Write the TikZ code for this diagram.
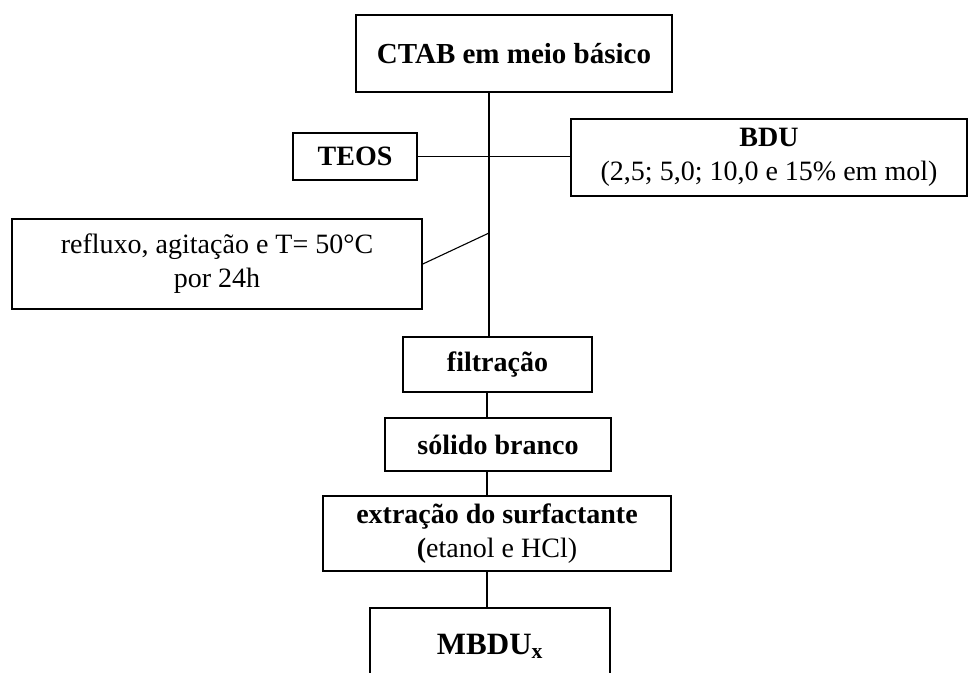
\documentclass[tikz,border=0pt]{standalone}
\usepackage{fontspec}
\setmainfont{Liberation Serif}
\begin{document}
\begin{tikzpicture}[x=1pt,y=1pt,
  box/.style={draw=black, line width=1.6pt, inner sep=0pt, align=center, font=\fontsize{28}{34}\selectfont},
  conn/.style={draw=black, line width=1.1pt}]
\useasboundingbox (0,0) rectangle (968,-672);
\node[box, minimum width=316pt, minimum height=77pt] (ctab) at (514,-53.5) {\fontsize{29}{34}\selectfont\textbf{CTAB em meio básico}};
\node[box, minimum width=124pt, minimum height=47pt] (teos) at (355,-156.5) {\textbf{TEOS}};
\node[box, minimum width=396pt, minimum height=77pt] (bdu) at (769,-157.5) {\textbf{BDU}\\(2,5; 5,0; 10,0 e 15\% em mol)};
\node[box, minimum width=410pt, minimum height=90pt] (reflux) at (217,-264) {refluxo, agitação e T= 50°C\\por 24h};
\node[box, minimum width=189pt, minimum height=55pt] (filt) at (497.5,-364.5) {\textbf{filtração}};
\node[box, minimum width=226pt, minimum height=53pt] (solido) at (498,-444.5) {\textbf{sólido branco}};
\node[box, minimum width=348pt, minimum height=75pt] (extr) at (497,-533.5) {\textbf{extração do surfactante}\\\textbf{(}etanol e HCl)};
\node[box, minimum width=240pt, minimum height=76pt] (mbdu) at (490,-646) {\fontsize{31}{34}\selectfont\textbf{MBDU\textsubscript{x}}};
\coordinate (j1) at (489,-157);
\coordinate (j2) at (489,-233);
\coordinate (k) at (487,0);
\draw[conn] (ctab.south -| j1) -- (filt.north -| j1);
\draw[conn] (teos.east) -- (bdu.west |- teos.east);
\draw[conn] (reflux.east) -- (j2);
\draw[conn] (filt.south -| k) -- (solido.north -| k);
\draw[conn] (solido.south -| k) -- (extr.north -| k);
\draw[conn] (extr.south -| k) -- (mbdu.north -| k);
\end{tikzpicture}
\end{document}
